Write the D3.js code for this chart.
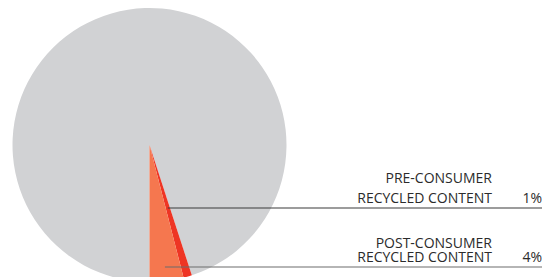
<!DOCTYPE html>
<html>
<head>
<meta charset="utf-8">
<script src="https://cdn.jsdelivr.net/npm/d3@7"></script>
<style>
  html, body { margin: 0; padding: 0; background: #fff; }
  svg { display: block; }
  text { font-family: "Open Sans", sans-serif; fill: #2b2b2b; }
</style>
</head>
<body>
<svg id="chart" width="558" height="277"></svg>
<script>
// slice order: the big remainder first, then the two recycled shares
const categories = ['Other', 'Pre-consumer recycled content', 'Post-consumer recycled content'];
const shares = [95, 1, 4];
const labelLines = [['', ''], ['PRE-CONSUMER', 'RECYCLED CONTENT'], ['POST-CONSUMER', 'RECYCLED CONTENT']];
const pctLabels = ['', '1%', '4%'];

const COLORS = ['#d1d2d4', '#ee3524', '#f5774f'];
const W = 558, H = 277;
const cx = 149.5, cy = 145, R = 137;

const svg = d3.select('#chart');
const g = svg.append('g').attr('transform', `translate(${cx},${cy})`);

const pie = d3.pie().sort(null).startAngle(Math.PI).endAngle(3 * Math.PI);
const arc = d3.arc().innerRadius(0).outerRadius(R);
const arcs = pie(shares);

g.selectAll('path.slice')
  .data(arcs)
  .enter().append('path')
  .attr('class', 'slice')
  .attr('d', arc)
  .attr('fill', (d, i) => COLORS[i]);

// ─── LABELS ───
// leader line height (relative to centre) and text baselines per labelled slice
const lineY = { 1: 63, 2: 122 };
const lineColor = { 1: '#3a3a3a', 2: '#6d6d6d' };
const lineEnd = 542 - cx;
const textRight = 492 - cx;

[1, 2].forEach(i => {
  const d = arcs[i];
  const mid = (d.startAngle + d.endAngle) / 2;
  const y = lineY[i];
  // point on the slice's mid-angle ray at this height
  const x0 = -y * Math.tan(mid);
  g.append('line')
    .attr('x1', x0).attr('y1', y)
    .attr('x2', lineEnd).attr('y2', y)
    .attr('stroke', lineColor[i])
    .attr('stroke-width', 1.2);

  const gap = i === 1 ? 20 : 14;
  g.append('text')
    .attr('x', textRight).attr('y', y - 5 - gap)
    .attr('text-anchor', 'end')
    .attr('font-size', '14px')
    .text(labelLines[i][0]);
  g.append('text')
    .attr('x', textRight).attr('y', y - 5)
    .attr('text-anchor', 'end')
    .attr('font-size', '14px')
    .text(labelLines[i][1]);
  g.append('text')
    .attr('x', lineEnd).attr('y', y - 5)
    .attr('text-anchor', 'end')
    .attr('font-size', '14px')
    .text(pctLabels[i]);
});
</script>
</body>
</html>
